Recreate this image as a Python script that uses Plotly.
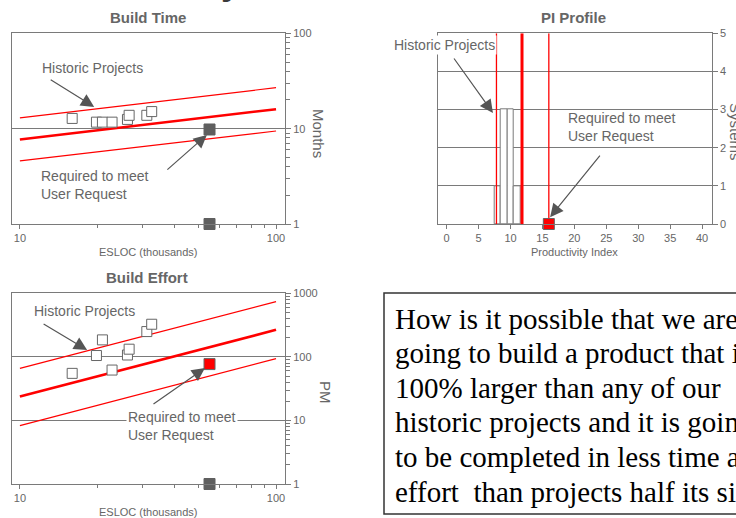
import math
import plotly.graph_objects as go

W, H = 736, 518
def px(x):
    return x / W
def py(y):
    return 1 - y / H

# ---------------- data ----------------
esloc = [16.0, 19.9, 21.0, 22.9, 26.3, 26.7, 31.3, 32.7]          # thousands
build_time = [12.8, 11.7, 11.7, 11.7, 12.5, 13.8, 13.8, 15.1]    # months
build_effort = [55, 105, 185, 62, 107, 132, 250, 326]            # PM
pi_values = [8, 9, 9, 9, 10, 10, 10, 11]                         # productivity index

trend_x = [10, 100]
time_avg = [7.7, 16.0]
time_hi = [13.0, 26.9]
time_lo = [4.6, 9.45]
effort_avg = [23.8, 266]
effort_hi = [66, 741]
effort_lo = [8.3, 94]

pi_lo, pi_avg, pi_hi = 7.8, 11.8, 16.0
req_esloc = 55
req_time = 9.8
req_effort = 77
req_pi = 16.0
axis_floor = 1

esloc_ticks = [10, 100]
time_ticks = [1, 10, 100]
effort_ticks = [1, 10, 100, 1000]
pi_xticks = [0, 5, 10, 15, 20, 25, 30, 35, 40]
pi_yticks = [0, 1, 2, 3, 4, 5]

question_lines = [
    "How is it possible that we are",
    "going to build a product that is",
    "100% larger than any of our",
    "historic projects and it is going",
    "to be completed in less time and",
    "effort  than projects half its size?",
]

GRAY = "#666666"
LINE = "#7a7a7a"
RED = "#ff0000"
SANS = "Arial, Liberation Sans, sans-serif"
SERIF = "Times New Roman, Liberation Serif, serif"

fig = go.Figure()

# ---------- Build Time (x, y) ----------
fig.add_trace(go.Scatter(x=trend_x, y=time_hi, mode="lines", line=dict(color=RED, width=1.2), xaxis="x", yaxis="y"))
fig.add_trace(go.Scatter(x=trend_x, y=time_avg, mode="lines", line=dict(color=RED, width=2.6), xaxis="x", yaxis="y"))
fig.add_trace(go.Scatter(x=trend_x, y=time_lo, mode="lines", line=dict(color=RED, width=1.2), xaxis="x", yaxis="y"))
fig.add_trace(go.Scatter(x=esloc, y=build_time, mode="markers", xaxis="x", yaxis="y",
                         marker=dict(symbol="square", size=10, color="white", line=dict(color=GRAY, width=1))))
fig.add_trace(go.Scatter(x=[req_esloc, req_esloc], y=[req_time, axis_floor], mode="markers", xaxis="x", yaxis="y",
                         cliponaxis=False,
                         marker=dict(symbol="square", size=11, color="#5f5f5f", line=dict(color="#5f5f5f", width=1))))

# ---------- PI Profile (x2, y2) ----------
fig.add_trace(go.Histogram(x=pi_values, xbins=dict(start=7.45, end=11.65, size=1.04), xaxis="x2", yaxis="y2",
                           marker=dict(color="white", line=dict(color=LINE, width=1))))
for v, wdt in [(pi_lo, 1.3), (pi_avg, 3), (pi_hi, 1.3)]:
    fig.add_trace(go.Scatter(x=[v, v], y=[0, 5], mode="lines", line=dict(color=RED, width=wdt),
                             xaxis="x2", yaxis="y2"))
fig.add_trace(go.Scatter(x=[req_pi], y=[0], mode="markers", xaxis="x2", yaxis="y2", cliponaxis=False,
                         marker=dict(symbol="square", size=11, color=RED, line=dict(color=GRAY, width=1))))

# ---------- Build Effort (x3, y3) ----------
fig.add_trace(go.Scatter(x=trend_x, y=effort_hi, mode="lines", line=dict(color=RED, width=1.2), xaxis="x3", yaxis="y3"))
fig.add_trace(go.Scatter(x=trend_x, y=effort_avg, mode="lines", line=dict(color=RED, width=2.6), xaxis="x3", yaxis="y3"))
fig.add_trace(go.Scatter(x=trend_x, y=effort_lo, mode="lines", line=dict(color=RED, width=1.2), xaxis="x3", yaxis="y3"))
fig.add_trace(go.Scatter(x=esloc, y=build_effort, mode="markers", xaxis="x3", yaxis="y3",
                         marker=dict(symbol="square", size=10, color="white", line=dict(color=GRAY, width=1))))
fig.add_trace(go.Scatter(x=[req_esloc], y=[req_effort], mode="markers", xaxis="x3", yaxis="y3", cliponaxis=False,
                         marker=dict(symbol="square", size=11, color=RED, line=dict(color=GRAY, width=1))))
fig.add_trace(go.Scatter(x=[req_esloc], y=[axis_floor], mode="markers", xaxis="x3", yaxis="y3", cliponaxis=False,
                         marker=dict(symbol="square", size=11, color="#5f5f5f", line=dict(color="#5f5f5f", width=1))))

def minor_log(maxdec):
    vals = []
    for d in range(maxdec):
        for m in range(2, 10):
            vals.append(m * 10 ** d)
    return vals

def common_x():
    return dict(showline=True, linecolor=LINE, linewidth=1, mirror=True, ticks="outside", ticklen=4,
                tickcolor=LINE, tickfont=dict(family=SANS, size=11, color=GRAY), color=GRAY,
                showgrid=False, zeroline=False, tickmode="array")

def common_y():
    return dict(showline=True, linecolor=LINE, linewidth=1, mirror=True, ticks="outside", ticklen=5,
                tickcolor=LINE, tickfont=dict(family=SANS, size=11, color=GRAY), color=GRAY,
                side="right", showgrid=True, gridcolor=LINE, gridwidth=1, zeroline=False, tickmode="array")

def x_log():
    return dict(type="log", range=[0.968, 2.035], tickvals=esloc_ticks,
                minor=dict(tickvals=[20, 30, 40, 50, 60, 70, 80, 90], ticks="outside", ticklen=3, tickcolor=LINE))

fig.update_layout(
    template="none",
    width=W, height=H, margin=dict(l=0, r=0, t=0, b=0),
    paper_bgcolor="white", plot_bgcolor="white", showlegend=False,
    bargap=0,
    xaxis=dict(**common_x(), **x_log(), domain=[px(11.7), px(285)], anchor="y"),
    yaxis=dict(**common_y(), type="log", range=[0, 2], tickvals=time_ticks,
               minor=dict(tickvals=minor_log(2), ticks="outside", ticklen=4, tickcolor=LINE),
               domain=[py(224), py(33.3)], anchor="x"),
    xaxis2=dict(**common_x(), range=[-1.4, 41.5], tickvals=pi_xticks, domain=[px(437.7), px(711.7)], anchor="y2"),
    yaxis2=dict(**common_y(), range=[0, 5], tickvals=pi_yticks, domain=[py(224), py(33.3)], anchor="x2"),
    xaxis3=dict(**common_x(), **x_log(), domain=[px(11.7), px(285)], anchor="y3"),
    yaxis3=dict(**common_y(), type="log", range=[0, 3], tickvals=effort_ticks,
                minor=dict(tickvals=minor_log(3), ticks="outside", ticklen=4, tickcolor=LINE),
                domain=[py(484), py(293.3)], anchor="x3"),
)

ann = []
def label(text, x, y, size, bold=False, angle=0, color=GRAY, xanchor="center", bg=None, family=SANS,
          align="center", yanchor="middle"):
    d = dict(text=f"<b>{text}</b>" if bold else text, x=px(x), y=py(y), xref="paper", yref="paper",
             showarrow=False, textangle=angle, xanchor=xanchor, yanchor=yanchor, align=align,
             font=dict(family=family, size=size, color=color))
    if bg:
        d["bgcolor"] = bg
    ann.append(d)

def arrow(xr, yr, x, y, ax, ay, logx=False, logy=False):
    xv = math.log10(x) if logx else x
    yv = math.log10(y) if logy else y
    ann.append(dict(text="", x=xv, y=yv, xref=xr, yref=yr, ax=ax, ay=ay, axref="pixel", ayref="pixel",
                    showarrow=True, arrowhead=2, arrowsize=2.2, arrowwidth=1.2, arrowcolor="#555555"))

# fragment of the slide heading cut off at the top edge
ann.append(dict(text="<b>y</b>", x=px(231), y=py(3), xref="paper", yref="paper", showarrow=False,
                xanchor="center", yanchor="bottom", borderpad=0,
                font=dict(family=SANS, size=36, color="#3a3a3a")))

# titles
label("Build Time", 148, 17, 15, bold=True)
label("PI Profile", 573, 17, 15, bold=True)
label("Build Effort", 147, 277, 15, bold=True)
# axis titles
label("ESLOC (thousands)", 148, 252, 11)
label("ESLOC (thousands)", 148, 512, 11)
label("Productivity Index", 574, 252, 11)
label("Months", 319, 133, 15, angle=90)
label("PM", 326, 392, 15, angle=90)
label("Systems", 735, 132, 15, angle=90)

# Build Time annotations
label("Historic Projects", 40, 68, 14, xanchor="left")
arrow("x", "y", 19.5, 16.9, -45, -28, logx=True, logy=True)
label("Required to meet<br>User Request", 39, 184.5, 14, xanchor="left", align="left")
arrow("x", "y", 53.7, 8.6, -41, 36, logx=True, logy=True)

# Build Effort annotations
label("Historic Projects", 32, 311, 14, xanchor="left")
arrow("x3", "y3", 18.3, 128, -45, -27, logx=True, logy=True)
label("Required to meet<br>User Request", 126, 426, 14, xanchor="left", align="left", bg="white")
arrow("x3", "y3", 52.8, 66.8, -53, 37, logx=True, logy=True)

# PI annotations
label("Historic Projects", 392, 45, 14, xanchor="left", bg="white")
arrow("x2", "y2", 7.25, 2.91, -40, -56)
label("Required to meet<br>User Request", 566, 127, 14, xanchor="left", align="left")
arrow("x2", "y2", 16.2, 0.18, 51, -63)

# question text box
for i, line in enumerate(question_lines):
    label(line, 393, 328 + 34.6 * i - 9.5, 29, xanchor="left", color="black", family=SERIF, align="left")

fig.update_layout(annotations=ann)
fig.add_shape(type="rect", xref="paper", yref="paper", x0=px(384), x1=px(760), y0=py(514), y1=py(293),
              line=dict(color="#333333", width=1.5), fillcolor="rgba(0,0,0,0)")

fig.write_html("out.html")
